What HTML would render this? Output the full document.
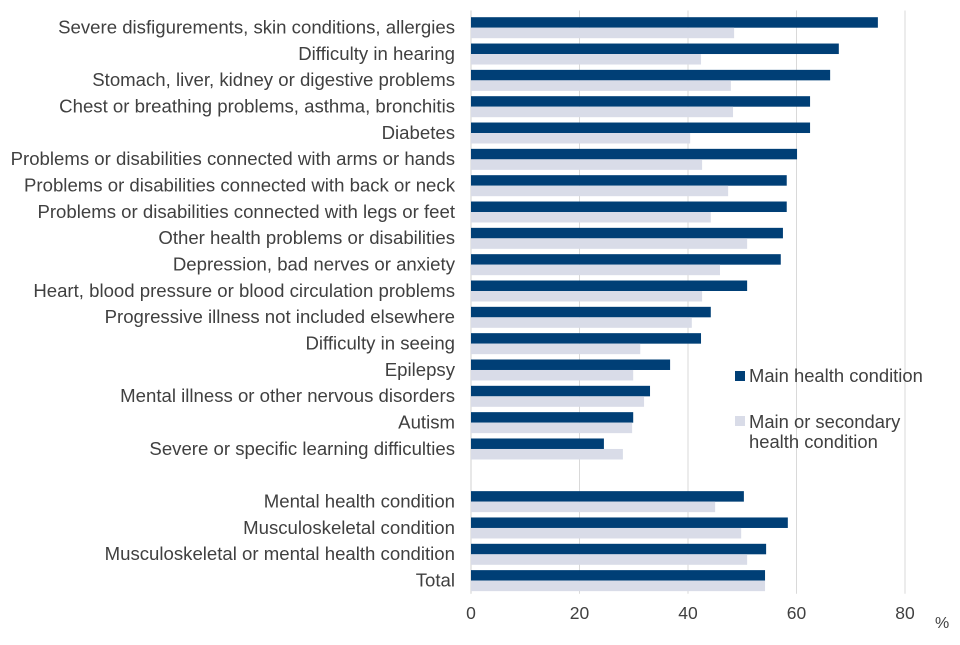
<!DOCTYPE html>
<html><head><meta charset="utf-8"><style>
body{margin:0;background:#fff;font-family:"Liberation Sans",Arial,sans-serif}
svg text{font-family:"Liberation Sans",Arial,sans-serif;fill:#404040}
</style></head><body>
<svg id="chart" width="960" height="640" xmlns="http://www.w3.org/2000/svg">
<g id="grid"></g><g id="bars"></g><g id="labels"></g><g id="ticks"></g>
<text x="935" y="628" font-size="16">%</text>
<g>
<rect x="735" y="371" width="10" height="10" fill="#003f76"/>
<text x="749" y="382" font-size="18.4">Main health condition</text>
<rect x="735" y="416" width="10" height="10" fill="#d9dce8"/>
<text x="749" y="428" font-size="18.4">Main or secondary</text>
<text x="749" y="448" font-size="18.4">health condition</text>
</g>
</svg>
<script>
const categories=["Severe disfigurements, skin conditions, allergies","Difficulty in hearing","Stomach, liver, kidney or digestive problems","Chest or breathing problems, asthma, bronchitis","Diabetes","Problems or disabilities connected with arms or hands","Problems or disabilities connected with back or neck","Problems or disabilities connected with legs or feet","Other health problems or disabilities","Depression, bad nerves or anxiety","Heart, blood pressure or blood circulation problems","Progressive illness not included elsewhere","Difficulty in seeing","Epilepsy","Mental illness or other nervous disorders","Autism","Severe or specific learning difficulties","","Mental health condition","Musculoskeletal condition","Musculoskeletal or mental health condition","Total"];
const mainValues=[75.0,67.8,66.2,62.5,62.5,60.1,58.2,58.2,57.5,57.1,50.9,44.2,42.4,36.7,33.0,29.9,24.5,null,50.3,58.4,54.4,54.2];
const secondaryValues=[48.5,42.4,47.9,48.3,40.4,42.6,47.4,44.2,50.9,45.9,42.6,40.7,31.2,29.9,31.9,29.7,28.0,null,45.0,49.8,50.9,54.2];
const tickValues=[0,20,40,60,80];
const NS="http://www.w3.org/2000/svg";
const x0=471,pxPer=5.425,top0=14.5,band=26.33;
const xs=v=>x0+v*pxPer;
const ys=i=>top0+i*band;
function mk(tag,attrs,parent){const e=document.createElementNS(NS,tag);for(const k in attrs)e.setAttribute(k,attrs[k]);document.getElementById(parent).appendChild(e);return e;}
const bottom=ys(categories.length);
tickValues.forEach(t=>{
 const l=mk('line',{x1:xs(t),x2:xs(t),y1:top0-4,y2:bottom,stroke:t===0?'#d0d0d0':'#d9d9d9','stroke-width':1},'grid');
 
 
 const tx=mk('text',{x:xs(t),y:619,'font-size':17.5,'text-anchor':'middle'},'ticks');
 tx.textContent=t;
 
 
});
categories.forEach((c,i)=>{
 if(mainValues[i]==null)return;
 const y=ys(i);
 const b1=mk('rect',{x:x0,y:y+2.7,width:xs(mainValues[i])-x0,height:10.5,fill:'#003f76'},'bars');
 
 
 const b2=mk('rect',{x:x0,y:y+13.2,width:xs(secondaryValues[i])-x0,height:10.5,fill:'#d9dce8'},'bars');
 
 
 const t=mk('text',{x:455,y:y+19,'font-size':18.6,'text-anchor':'end'},'labels');
 t.textContent=c;
 
 
});
</script>
</body></html>
